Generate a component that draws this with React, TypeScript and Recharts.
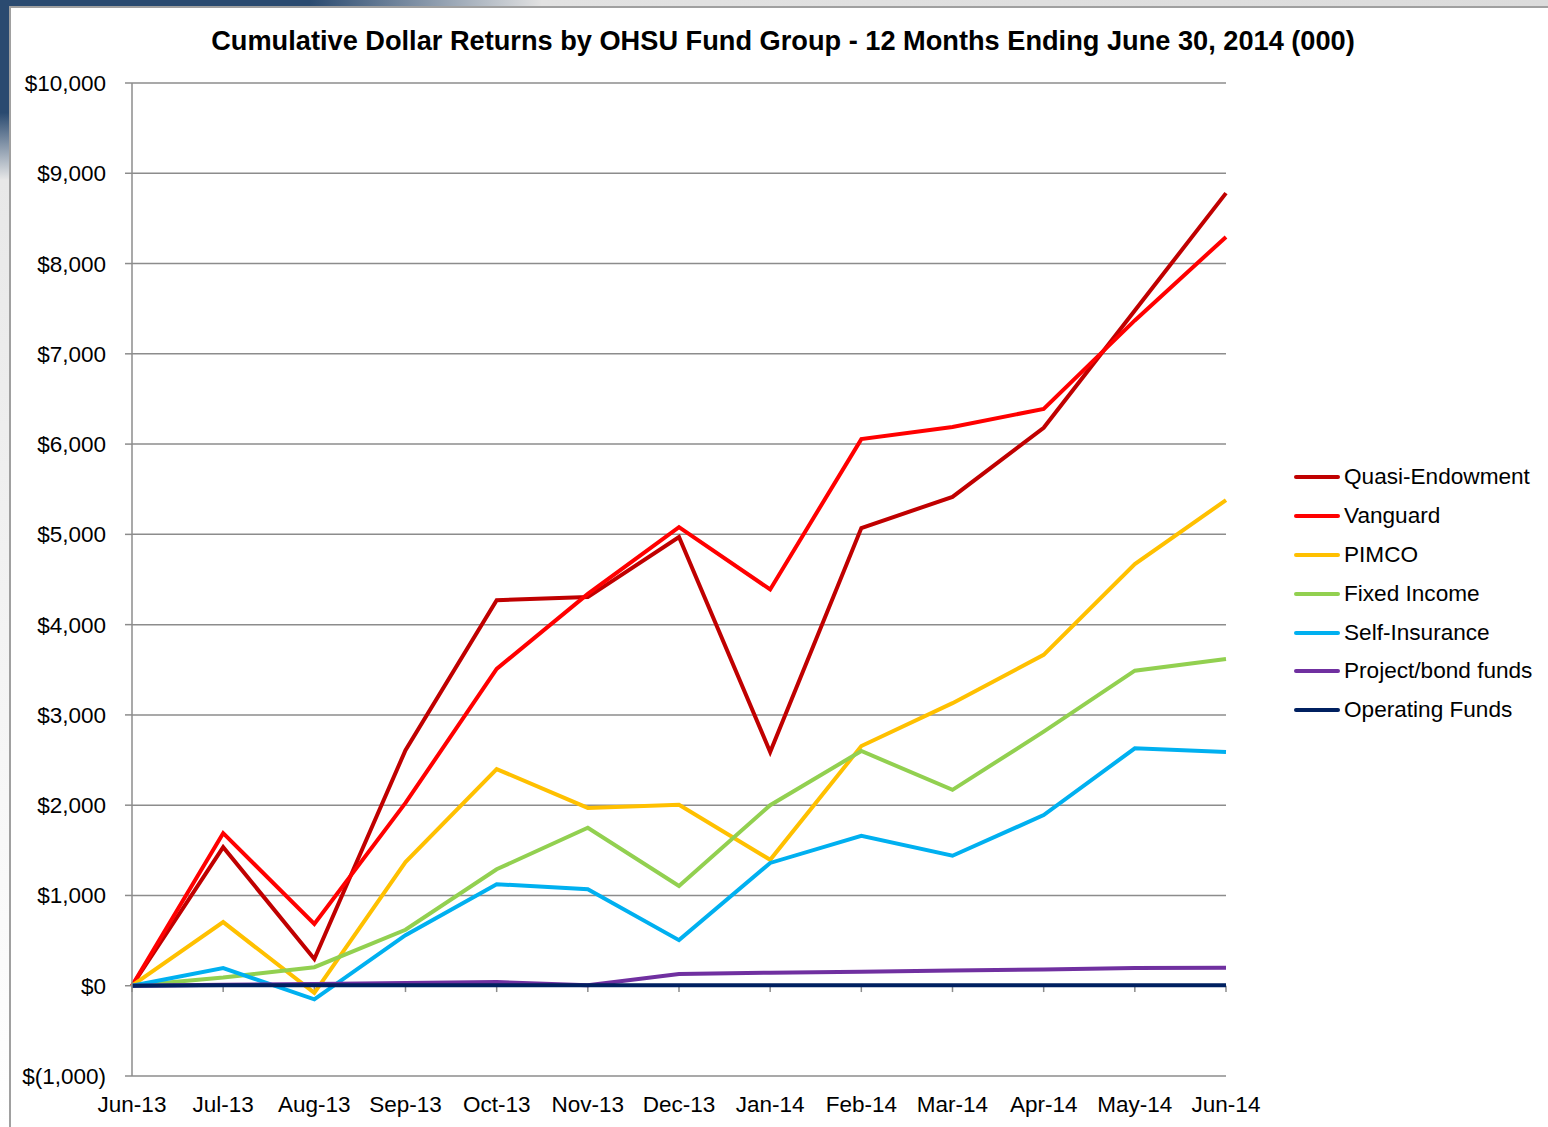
import { LineChart, Line, XAxis, YAxis, CartesianGrid, ReferenceLine } from 'recharts'

const MONTHS = ['Jun-13', 'Jul-13', 'Aug-13', 'Sep-13', 'Oct-13', 'Nov-13', 'Dec-13', 'Jan-14', 'Feb-14', 'Mar-14', 'Apr-14', 'May-14', 'Jun-14']

const QUASI = [0, 1535, 296, 2610, 4270, 4305, 4970, 2590, 5070, 5415, 6180, 7480, 8780]
const VANGUARD = [0, 1690, 685, 2025, 3510, 4340, 5080, 4390, 6055, 6190, 6390, 7370, 8295]
const PIMCO = [0, 705, -80, 1370, 2400, 1970, 2005, 1395, 2655, 3130, 3665, 4670, 5380]
const FIXED = [0, 90, 205, 620, 1290, 1750, 1105, 2000, 2600, 2170, 2815, 3490, 3620]
const SELF_INS = [0, 195, -150, 560, 1125, 1070, 505, 1360, 1660, 1440, 1890, 2630, 2590]
const PROJECT = [0, 10, 20, 30, 40, 5, 130, 145, 155, 170, 180, 195, 200]
const OPERATING = [0, 5, 5, 5, 5, 5, 5, 5, 5, 5, 5, 5, 5]

const Y_TICKS = [-1000, 0, 1000, 2000, 3000, 4000, 5000, 6000, 7000, 8000, 9000, 10000]

const SERIES = [
  { key: 'quasi', name: 'Quasi-Endowment', color: '#c00000', values: QUASI },
  { key: 'vanguard', name: 'Vanguard', color: '#ff0000', values: VANGUARD },
  { key: 'pimco', name: 'PIMCO', color: '#ffc000', values: PIMCO },
  { key: 'fixed', name: 'Fixed Income', color: '#92d050', values: FIXED },
  { key: 'selfIns', name: 'Self-Insurance', color: '#00b0f0', values: SELF_INS },
  { key: 'project', name: 'Project/bond funds', color: '#7030a0', values: PROJECT },
  { key: 'operating', name: 'Operating Funds', color: '#002060', values: OPERATING },
]

const data = MONTHS.map((m, i) => {
  const row: Record<string, string | number> = { month: m }
  SERIES.forEach(s => { row[s.key] = s.values[i] })
  return row
})

const FONT = '"Liberation Sans", Arial, sans-serif'
const GRID = '#8c8c8c'

function fmtDollar(v: number) {
  if (v < 0) return `$(${Math.abs(v).toLocaleString('en-US')})`
  return `$${v.toLocaleString('en-US')}`
}

export default function App() {
  return (
    <div style={{ position: 'absolute', left: 0, top: 0, width: 1548, height: 1127, overflow: 'hidden', fontFamily: FONT }}>
      {/* slide background corner */}
      <div style={{ position: 'absolute', left: 0, top: 0, width: 1548, height: 6, background: 'linear-gradient(to right, #2a4a70 0%, #2a4a70 20%, #e2e2e2 35%, #dcdcdc 100%)' }} />
      <div style={{ position: 'absolute', left: 0, top: 0, width: 9, height: 1127, background: 'linear-gradient(to bottom, #2a4a70 0%, #2a4a70 10%, #e8e8e8 16%, #ffffff 100%)' }} />
      <div style={{ position: 'absolute', left: 9, top: 6, width: 1539, height: 1121, background: '#fff', borderLeft: '2px solid #a0a0a0', borderTop: '2px solid #a0a0a0', boxSizing: 'border-box' }} />

      <div style={{ position: 'absolute', left: 0, top: 25, width: 1566, textAlign: 'center', fontSize: 27.2, fontWeight: 'bold', color: '#000' }}>
        Cumulative Dollar Returns by OHSU Fund Group - 12 Months Ending June 30, 2014 (000)
      </div>

      <div style={{ position: 'absolute', left: 0, top: 0 }}>
        <LineChart width={1548} height={1127} data={data} margin={{ top: 83, right: 322, bottom: 21, left: 0 }}>
          <CartesianGrid vertical={false} stroke={GRID} strokeWidth={1.5} />
          <XAxis
            dataKey="month"
            height={30}
            axisLine={false}
            tickLine={false}
            tickSize={0}
            tickMargin={20}
            interval={0}
            tick={{ fill: '#000', fontSize: 22.5, fontFamily: FONT }}
          />
          <YAxis
            width={132}
            domain={[-1000, 10000]}
            ticks={Y_TICKS}
            interval={0}
            tickFormatter={fmtDollar}
            axisLine={{ stroke: GRID, strokeWidth: 1.5 }}
            tickLine={{ stroke: GRID, strokeWidth: 1.5 }}
            tickSize={7}
            tickMargin={19}
            tick={{ fill: '#000', fontSize: 22.5, fontFamily: FONT }}
          />
          {MONTHS.map(m => (
            <ReferenceLine key={m} segment={[{ x: m, y: 0 }, { x: m, y: -70 }]} stroke={GRID} strokeWidth={1.5} />
          ))}
          {SERIES.map(s => (
            <Line
              key={s.key}
              dataKey={s.key}
              name={s.name}
              type="linear"
              stroke={s.color}
              strokeWidth={4}
              dot={false}
              activeDot={false}
              isAnimationActive={false}
            />
          ))}
        </LineChart>
      </div>

      {/* legend */}
      <div style={{ position: 'absolute', left: 1294, top: 458 }}>
        {SERIES.map(s => (
          <div key={s.key} style={{ display: 'flex', alignItems: 'center', height: 38.8 }}>
            <span style={{ width: 46, height: 4, background: s.color, borderRadius: 2, marginRight: 4 }} />
            <span style={{ fontSize: 22.6, color: '#000', whiteSpace: 'nowrap' }}>{s.name}</span>
          </div>
        ))}
      </div>
    </div>
  )
}
